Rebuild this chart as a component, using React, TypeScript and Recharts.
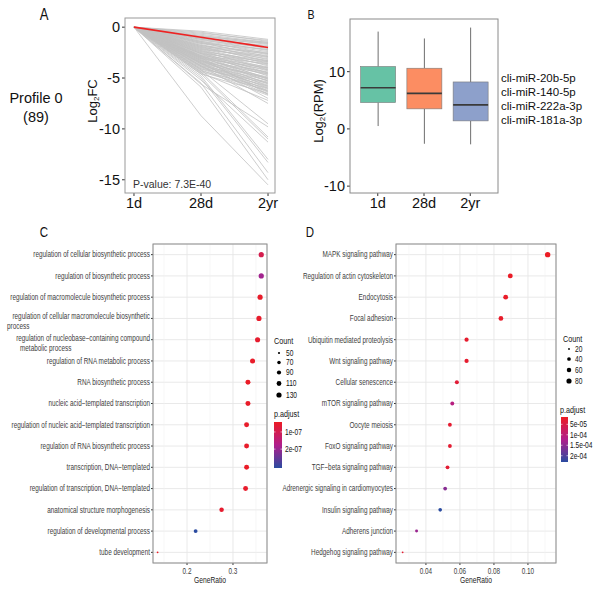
import React from 'react';
import {
  LineChart, Line, XAxis, YAxis, ComposedChart, Bar, ScatterChart, Scatter,
  CartesianGrid, ReferenceLine,
} from 'recharts';

// ---------------- Panel A: temporal profile ----------------
const timeLabels = ['1d', '28d', '2yr'];
// [log2FC at 28d, log2FC at 2yr]; every miRNA starts at 0 on 1d
const profileLines: [number, number][] = [
  [-0.4, -1.2], [-0.6, -1.3], [-0.5, -1.4], [-0.9, -1.5], [-0.7, -1.5], [-0.8, -1.6], [-1.1, -1.6], [-0.9, -1.7], [-1.2, -1.8], [-1.0, -1.9],
  [-1.3, -2.0], [-1.1, -2.1], [-1.4, -2.2], [-1.6, -2.2], [-1.2, -2.3], [-1.5, -2.4], [-1.8, -2.5], [-1.4, -2.6], [-1.9, -2.6], [-1.6, -2.7],
  [-2.0, -2.8], [-1.5, -2.9], [-2.2, -2.9], [-1.8, -3.0], [-2.1, -3.1], [-1.7, -3.2], [-2.4, -3.3], [-2.0, -3.3], [-2.6, -3.4], [-1.9, -3.4],
  [-2.3, -3.5], [-2.8, -3.6], [-2.1, -3.6], [-2.5, -3.7], [-2.2, -3.8], [-2.9, -3.9], [-2.4, -4.0], [-3.1, -4.0], [-2.6, -4.1], [-2.3, -4.2],
  [-3.0, -4.2], [-2.7, -4.3], [-3.3, -4.4], [-2.5, -4.5], [-2.9, -4.5], [-3.4, -4.6], [-2.8, -4.6], [-3.1, -4.7], [-2.6, -4.8], [-3.5, -4.9],
  [-3.0, -5.0], [-3.6, -5.0], [-2.8, -5.1], [-3.3, -5.1], [-3.8, -5.2], [-3.2, -5.3], [-2.9, -5.3], [-3.9, -5.4], [-3.4, -5.5], [-4.1, -5.5],
  [-3.1, -5.6], [-3.6, -5.7], [-4.0, -5.8], [-3.3, -5.8], [-3.7, -5.9], [-4.3, -6.0], [-3.5, -6.0], [-3.9, -6.1], [-4.4, -6.2], [-3.2, -6.3],
  [-4.1, -6.3], [-3.6, -6.4], [-4.6, -6.5], [-3.0, -6.6], [-3.8, -6.6], [-4.2, -6.7], [-3.5, -7.0], [-4.5, -7.2], [-3.8, -7.5],
  [-4.2, -9.5], [-5.6, -9.8], [-4.4, -10.8], [-4.6, -11.0], [-5.2, -11.3], [-4.8, -13.0], [-5.0, -13.3], [-5.5, -14.3], [-5.9, -15.0], [-8.7, -15.5],
];
const modelProfile = [0, -1, -2];
const profileYTicks = [0, -5, -10, -15];
const profileName = 'Profile 0';
const profileSize = '(89)';
const profilePValue = 'P-value: 7.3E-40';

// ---------------- Panel B: box plot ----------------
const boxLabels = ['1d', '28d', '2yr'];
const boxMin = [0.5, -2.6, -2.7];
const boxQ1 = [4.6, 3.5, 1.4];
const boxMedian = [7.2, 6.2, 4.2];
const boxQ3 = [10.9, 10.6, 8.2];
const boxMax = [17.0, 15.8, 17.7];
const boxColors = ['#66c2a5', '#fc8d62', '#8da0cb'];
const boxYTicks = [-10, 0, 10];
const profileMirnas = ['cli-miR-20b-5p', 'cli-miR-140-5p', 'cli-miR-222a-3p', 'cli-miR-181a-3p'];

// ---------------- Panel C: GO enrichment ----------------
const goTerms = [
  'regulation of cellular biosynthetic process',
  'regulation of biosynthetic process',
  'regulation of macromolecule biosynthetic process',
  'regulation of cellular macromolecule biosynthetic\nprocess',
  'regulation of nucleobase\u2212containing compound\nmetabolic process',
  'regulation of RNA metabolic process',
  'RNA biosynthetic process',
  'nucleic acid\u2212templated transcription',
  'regulation of nucleic acid\u2212templated transcription',
  'regulation of RNA biosynthetic process',
  'transcription, DNA\u2212templated',
  'regulation of transcription, DNA\u2212templated',
  'anatomical structure morphogenesis',
  'regulation of developmental process',
  'tube development',
];
const goRatio = [0.3615, 0.3615, 0.359, 0.3565, 0.3535, 0.3426, 0.3326, 0.3326, 0.3296, 0.3296, 0.3296, 0.3274, 0.2752, 0.2187, 0.136];
const goCount = [130, 130, 129, 128, 127, 123, 120, 120, 119, 119, 119, 118, 99, 79, 49];
const goPadj = [9.5e-8, 1.9e-7, 5.0e-8, 5.2e-8, 5.5e-8, 5.0e-8, 4.6e-8, 4.8e-8, 5.0e-8, 5.1e-8, 4.7e-8, 5.2e-8, 5.6e-8, 3.1e-7, 4.2e-8];
const goXTicks = [0.2, 0.3];
const goMinorX = [0.15, 0.25, 0.35];
const goCountBreaks = [50, 70, 90, 110, 130];
const goPadjBreaks = [1e-7, 2e-7];
const goPadjLabels = ['1e-07', '2e-07'];

// ---------------- Panel D: KEGG enrichment ----------------
const keggTerms = [
  'MAPK signaling pathway',
  'Regulation of actin cytoskeleton',
  'Endocytosis',
  'Focal adhesion',
  'Ubiquitin mediated proteolysis',
  'Wnt signaling pathway',
  'Cellular senescence',
  'mTOR signaling pathway',
  'Oocyte meiosis',
  'FoxO signaling pathway',
  'TGF\u2212beta signaling pathway',
  'Adrenergic signaling in cardiomyocytes',
  'Insulin signaling pathway',
  'Adherens junction',
  'Hedgehog signaling pathway',
];
const keggRatio = [0.1116, 0.0896, 0.0869, 0.0841, 0.0639, 0.0639, 0.0582, 0.0555, 0.0541, 0.0541, 0.0527, 0.0513, 0.0484, 0.0345, 0.0263];
const keggCount = [89, 72, 70, 67, 51, 51, 47, 44, 43, 43, 42, 41, 39, 28, 21];
const keggPadj = [1.5e-5, 1.8e-5, 2.0e-5, 2.2e-5, 2.5e-5, 2.6e-5, 3.5e-5, 1.1e-4, 2.8e-5, 3.0e-5, 3.2e-5, 1.55e-4, 2.3e-4, 1.4e-4, 2.9e-5];
const keggXTicks = [0.04, 0.06, 0.08, 0.1];
const keggMinorX = [0.03, 0.05, 0.07, 0.09, 0.11];
const keggCountBreaks = [20, 40, 60, 80];
const keggPadjBreaks = [5e-5, 1e-4, 1.5e-4, 2e-4];
const keggPadjLabels = ['5e-05', '1e-04', '1.5e-04', '2e-04'];

// ---------------- helpers ----------------
const SANS = "'Liberation Sans', Arial, sans-serif";
const GRID = '#e6e6e6';
const TEXT_GREY = '#3d3d3d';

// Arial-Narrow-like text: Liberation Sans squeezed horizontally
const NText = (p: {
  x: number; y: number; size: number; anchor?: 'start' | 'middle' | 'end';
  baseline?: string; fill?: string; sx?: number; children: React.ReactNode;
}) => (
  <text
    transform={`translate(${p.x},${p.y}) scale(${p.sx ?? 0.82},1)`}
    textAnchor={p.anchor ?? 'start'}
    dominantBaseline={p.baseline as any}
    fontSize={p.size}
    fontFamily={SANS}
    fill={p.fill ?? '#111'}
  >
    {p.children}
  </text>
);

const colorStops = [
  [236, 28, 36],
  [176, 30, 140],
  [42, 75, 160],
];
function gradientColor(t: number): string {
  const tt = Math.max(0, Math.min(1, t));
  const seg = tt < 0.5 ? 0 : 1;
  const lt = tt < 0.5 ? tt / 0.5 : (tt - 0.5) / 0.5;
  const a = colorStops[seg];
  const b = colorStops[seg + 1];
  const c = a.map((v, i) => Math.round(v + (b[i] - v) * lt));
  return `rgb(${c[0]},${c[1]},${c[2]})`;
}
function sizeScale(counts: number[], rMin: number, rMax: number) {
  const lo = Math.min(...counts);
  const hi = Math.max(...counts);
  return (c: number) => rMin + (rMax - rMin) * Math.sqrt(Math.max(0, (c - lo) / (hi - lo)));
}

const lineData = timeLabels.map((_, i) => {
  const row: Record<string, number> = { t: i, model: modelProfile[i] };
  profileLines.forEach((p, j) => {
    row['g' + j] = i === 0 ? 0 : p[i - 1];
  });
  return row;
});

const boxData = boxLabels.map((l, i) => ({
  x: i + 1,
  label: l,
  range: [boxMin[i], boxMax[i]],
  min: boxMin[i],
  q1: boxQ1[i],
  median: boxMedian[i],
  q3: boxQ3[i],
  max: boxMax[i],
  color: boxColors[i],
}));

function enrichData(terms: string[], ratio: number[], count: number[], padj: number[]) {
  const pMin = Math.min(...padj);
  const pMax = Math.max(...padj);
  return terms.map((t, i) => ({
    term: t,
    x: ratio[i],
    y: i + 1,
    count: count[i],
    color: gradientColor((padj[i] - pMin) / (pMax - pMin)),
  }));
}
const goData = enrichData(goTerms, goRatio, goCount, goPadj);
const keggData = enrichData(keggTerms, keggRatio, keggCount, keggPadj);
const goR = sizeScale(goCount, 0.9, 2.6);
const keggR = sizeScale(keggCount, 0.9, 2.7);

const BoxShape = (props: any) => {
  const { x, y, width, height, payload } = props;
  const top = Math.min(y, y + height);
  const h = Math.abs(height);
  const hi = payload.max;
  const lo = payload.min;
  const py = (v: number) => top + ((hi - v) / (hi - lo)) * h;
  const cx = x + width / 2;
  return (
    <g>
      <line x1={cx} x2={cx} y1={py(hi)} y2={py(payload.q3)} stroke="#6e6e6e" strokeWidth={1} />
      <line x1={cx} x2={cx} y1={py(payload.q1)} y2={py(lo)} stroke="#6e6e6e" strokeWidth={1} />
      <rect x={x} y={py(payload.q3)} width={width} height={py(payload.q1) - py(payload.q3)}
        fill={payload.color} stroke="#7a7a7a" strokeWidth={0.6} />
      <line x1={x} x2={x + width} y1={py(payload.median)} y2={py(payload.median)} stroke="#3a3a3a" strokeWidth={1.6} />
    </g>
  );
};

const TERM_SIZE = 8.4;
const TERM_SX = 0.76;
const makeTermTick = (terms: string[], secondLineOffsets: Record<number, number>) => (props: any) => {
  const { x, y, payload } = props;
  const idx = Math.round(payload.value) - 1;
  const label = terms[idx] ?? '';
  const parts = label.split('\n');
  if (parts.length === 1) {
    return <NText x={x} y={y} size={TERM_SIZE} sx={TERM_SX} anchor="end" baseline="central" fill={TEXT_GREY}>{label}</NText>;
  }
  return (
    <g>
      <NText x={x} y={y - 2} size={TERM_SIZE} sx={TERM_SX} anchor="end" baseline="central" fill={TEXT_GREY}>{parts[0]}</NText>
      <NText x={x + (secondLineOffsets[idx] ?? -100)} y={y + 8} size={TERM_SIZE} sx={TERM_SX} anchor="start" baseline="central" fill={TEXT_GREY}>{parts[1]}</NText>
    </g>
  );
};

const makeRatioTick = (digits: number) => (props: any) => {
  const { x, y, payload } = props;
  return <NText x={x} y={y + 5} size={8.2} sx={0.78} anchor="middle" baseline="central" fill={TEXT_GREY}>{Number(payload.value).toFixed(digits)}</NText>;
};

const dotShape = (rOf: (c: number) => number) => (props: any) => (
  <circle cx={props.cx} cy={props.cy} r={rOf(props.payload.count)} fill={props.payload.color} />
);

export default function App() {
  const goPMin = Math.min(...goPadj);
  const goPMax = Math.max(...goPadj);
  const keggPMin = Math.min(...keggPadj);
  const keggPMax = Math.max(...keggPadj);
  const goBar = { x: 274, y: 422, w: 8, h: 46 };
  const keggBar = { x: 561, y: 417, w: 7, h: 45 };
  const goLegendY = [353, 362.5, 372.5, 383.5, 395];
  const keggLegendY = [349, 359, 370, 381];

  return (
    <div style={{ position: 'absolute', left: 0, top: 0, width: 600, height: 589, background: '#fff', fontFamily: SANS }}>
      {/* Panel A */}
      <div style={{ position: 'absolute', left: 80, top: 8 }}>
        <LineChart width={205} height={215} data={lineData} margin={{ top: 10, right: 10, bottom: 0, left: 0 }}>
          <XAxis dataKey="t" type="number" domain={[-0.134, 2.104]} allowDataOverflow ticks={[0, 1, 2]}
            tickFormatter={(v: number) => timeLabels[v]} height={30} axisLine={false}
            tickSize={3} tickMargin={2} tickLine={{ stroke: '#333' }}
            tick={{ fontSize: 14.5, fontFamily: SANS, fill: '#111' }} interval={0} />
          <YAxis type="number" domain={[-16.3, 0.9]} allowDataOverflow ticks={profileYTicks} width={45}
            axisLine={false} tickSize={3} tickMargin={2} tickLine={{ stroke: '#333' }}
            tick={{ fontSize: 14.5, fontFamily: SANS, fill: '#111' }} interval={0} />
          {profileLines.map((_, j) => (
            <Line key={j} dataKey={'g' + j} stroke="#c2c2c2" strokeWidth={0.8} dot={false} isAnimationActive={false} />
          ))}
          <Line dataKey="model" stroke="#ee2222" strokeWidth={1.6} dot={false} isAnimationActive={false} />
        </LineChart>
      </div>

      {/* Panel B */}
      <div style={{ position: 'absolute', left: 295, top: 8 }}>
        <ComposedChart width={210} height={215} data={boxData} margin={{ top: 11, right: 7, bottom: 0, left: 0 }}>
          <XAxis dataKey="x" type="number" domain={[0.4, 3.6]} allowDataOverflow ticks={[1, 2, 3]}
            tickFormatter={(v: number) => boxLabels[v - 1]} height={30} axisLine={false}
            tickSize={3} tickMargin={2} tickLine={{ stroke: '#333' }}
            tick={{ fontSize: 14.5, fontFamily: SANS, fill: '#111' }} interval={0} />
          <YAxis type="number" domain={[-11.2, 19.2]} allowDataOverflow ticks={boxYTicks} width={55}
            axisLine={false} tickSize={3} tickMargin={2} tickLine={{ stroke: '#333' }}
            tick={{ fontSize: 14.5, fontFamily: SANS, fill: '#111' }} interval={0} />
          <Bar dataKey="range" barSize={35} shape={BoxShape} isAnimationActive={false} />
        </ComposedChart>
      </div>

      {/* Panel C */}
      <div style={{ position: 'absolute', left: 0, top: 236 }}>
        <ScatterChart width={275} height={353} margin={{ top: 8, right: 8, bottom: 0, left: 0 }}>
          <CartesianGrid stroke={GRID} strokeWidth={0.9} />
          {goMinorX.map((v) => (
            <ReferenceLine key={v} x={v} stroke="#f1f1f1" strokeWidth={0.6} />
          ))}
          <XAxis dataKey="x" type="number" domain={[0.126, 0.374]} allowDataOverflow ticks={goXTicks}
            height={26} axisLine={false}
            tickSize={2} tickMargin={1} tickLine={{ stroke: '#333' }} tick={makeRatioTick(1)} interval={0} />
          <YAxis dataKey="y" type="number" domain={[0.5, 15.5]} reversed allowDataOverflow
            ticks={goTerms.map((_, i) => i + 1)} width={153} axisLine={false}
            tickSize={2} tickMargin={1} tickLine={{ stroke: '#333' }}
            tick={makeTermTick(goTerms, { 3: -143, 4: -130 })} interval={0} />
          <Scatter data={goData} shape={dotShape(goR)} isAnimationActive={false} />
        </ScatterChart>
      </div>

      {/* Panel D */}
      <div style={{ position: 'absolute', left: 270, top: 236 }}>
        <ScatterChart width={288} height={353} margin={{ top: 8, right: 2, bottom: 0, left: 0 }}>
          <CartesianGrid stroke={GRID} strokeWidth={0.9} />
          {keggMinorX.map((v) => (
            <ReferenceLine key={v} x={v} stroke="#f1f1f1" strokeWidth={0.6} />
          ))}
          <XAxis dataKey="x" type="number" domain={[0.0224, 0.1165]} allowDataOverflow ticks={keggXTicks}
            height={26} axisLine={false}
            tickSize={2} tickMargin={1} tickLine={{ stroke: '#333' }} tick={makeRatioTick(2)} interval={0} />
          <YAxis dataKey="y" type="number" domain={[0.5, 15.5]} reversed allowDataOverflow
            ticks={keggTerms.map((_, i) => i + 1)} width={126} axisLine={false}
            tickSize={2} tickMargin={1} tickLine={{ stroke: '#333' }}
            tick={makeTermTick(keggTerms, {})} interval={0} />
          <Scatter data={keggData} shape={dotShape(keggR)} isAnimationActive={false} />
        </ScatterChart>
      </div>

      {/* Overlay: borders, titles, legends */}
      <svg width={600} height={589} style={{ position: 'absolute', left: 0, top: 0, pointerEvents: 'none' }}>
        <defs>
          <linearGradient id="padjGrad" x1="0" y1="0" x2="0" y2="1">
            <stop offset="0" stopColor={gradientColor(0)} />
            <stop offset="0.5" stopColor={gradientColor(0.5)} />
            <stop offset="1" stopColor={gradientColor(1)} />
          </linearGradient>
        </defs>
        {/* panel borders */}
        <rect x={125} y={18} width={150} height={175} fill="none" stroke="#9a9a9a" strokeWidth={1} />
        <rect x={350} y={19} width={148} height={174} fill="none" stroke="#8a8a8a" strokeWidth={1} />
        <rect x={153} y={244} width={114} height={319} fill="none" stroke="#8c8c8c" strokeWidth={1} />
        <rect x={396} y={244} width={160} height={319} fill="none" stroke="#8c8c8c" strokeWidth={1} />

        {/* panel letters */}
        <NText x={44} y={20} size={16} anchor="middle">A</NText>
        <NText x={311} y={19} size={13} anchor="middle">B</NText>
        <NText x={44} y={237} size={14} anchor="middle">C</NText>
        <NText x={310} y={237} size={14} anchor="middle">D</NText>

        {/* Panel A texts */}
        <text x={36} y={103} textAnchor="middle" fontSize={14.5} fontFamily={SANS} fill="#111">{profileName}</text>
        <text x={36} y={122} textAnchor="middle" fontSize={14.5} fontFamily={SANS} fill="#111">{profileSize}</text>
        <text transform="translate(97,101) rotate(-90)" textAnchor="middle" fontSize={13} fontFamily={SANS} fill="#111">
          Log<tspan fontSize={8} dy={2}>2</tspan><tspan dy={-2}>FC</tspan>
        </text>
        <text x={133} y={188} fontSize={10.5} fontFamily={SANS} fill="#333">{profilePValue}</text>

        {/* Panel B texts */}
        <text transform="translate(323,111) rotate(-90)" textAnchor="middle" fontSize={13} fontFamily={SANS} fill="#111">
          Log<tspan fontSize={8} dy={2}>2</tspan><tspan dy={-2}>(RPM)</tspan>
        </text>
        {profileMirnas.map((m, i) => (
          <text key={m} x={501} y={82 + i * 14} fontSize={11.5} fontFamily={SANS} fill="#111">{m}</text>
        ))}

        {/* Panel C legend */}
        <NText x={210} y={583} size={8.6} sx={0.78} anchor="middle" fill="#222">GeneRatio</NText>
        <NText x={274} y={344} size={9.2} sx={0.78} fill="#111">Count</NText>
        {goCountBreaks.map((b, i) => (
          <g key={b}>
            <circle cx={279} cy={goLegendY[i]} r={goR(b)} fill="#000" />
            <NText x={286} y={goLegendY[i]} size={8.5} sx={0.78} baseline="central" fill="#111">{b}</NText>
          </g>
        ))}
        <NText x={274} y={417} size={9.2} sx={0.78} fill="#111">p.adjust</NText>
        <rect x={goBar.x} y={goBar.y} width={goBar.w} height={goBar.h} fill="url(#padjGrad)" />
        {goPadjBreaks.map((b, i) => {
          const yy = goBar.y + ((b - goPMin) / (goPMax - goPMin)) * goBar.h;
          return (
            <g key={b}>
              <line x1={goBar.x} x2={goBar.x + 1.5} y1={yy} y2={yy} stroke="#fff" strokeWidth={0.6} />
              <line x1={goBar.x + goBar.w - 1.5} x2={goBar.x + goBar.w} y1={yy} y2={yy} stroke="#fff" strokeWidth={0.6} />
              <NText x={goBar.x + goBar.w + 3} y={yy} size={8.5} sx={0.78} baseline="central" fill="#111">{goPadjLabels[i]}</NText>
            </g>
          );
        })}

        {/* Panel D legend */}
        <NText x={476} y={583} size={8.6} sx={0.78} anchor="middle" fill="#222">GeneRatio</NText>
        <NText x={563} y={342} size={9.2} sx={0.78} fill="#111">Count</NText>
        {keggCountBreaks.map((b, i) => (
          <g key={b}>
            <circle cx={569} cy={keggLegendY[i]} r={keggR(b)} fill="#000" />
            <NText x={575} y={keggLegendY[i]} size={8.5} sx={0.78} baseline="central" fill="#111">{b}</NText>
          </g>
        ))}
        <NText x={560} y={413} size={9.2} sx={0.78} fill="#111">p.adjust</NText>
        <rect x={keggBar.x} y={keggBar.y} width={keggBar.w} height={keggBar.h} fill="url(#padjGrad)" />
        {keggPadjBreaks.map((b, i) => {
          const yy = keggBar.y + ((b - keggPMin) / (keggPMax - keggPMin)) * keggBar.h;
          return (
            <g key={b}>
              <line x1={keggBar.x} x2={keggBar.x + 1.5} y1={yy} y2={yy} stroke="#fff" strokeWidth={0.6} />
              <line x1={keggBar.x + keggBar.w - 1.5} x2={keggBar.x + keggBar.w} y1={yy} y2={yy} stroke="#fff" strokeWidth={0.6} />
              <NText x={keggBar.x + keggBar.w + 2} y={yy} size={8.5} sx={0.78} baseline="central" fill="#111">{keggPadjLabels[i]}</NText>
            </g>
          );
        })}
      </svg>
    </div>
  );
}
